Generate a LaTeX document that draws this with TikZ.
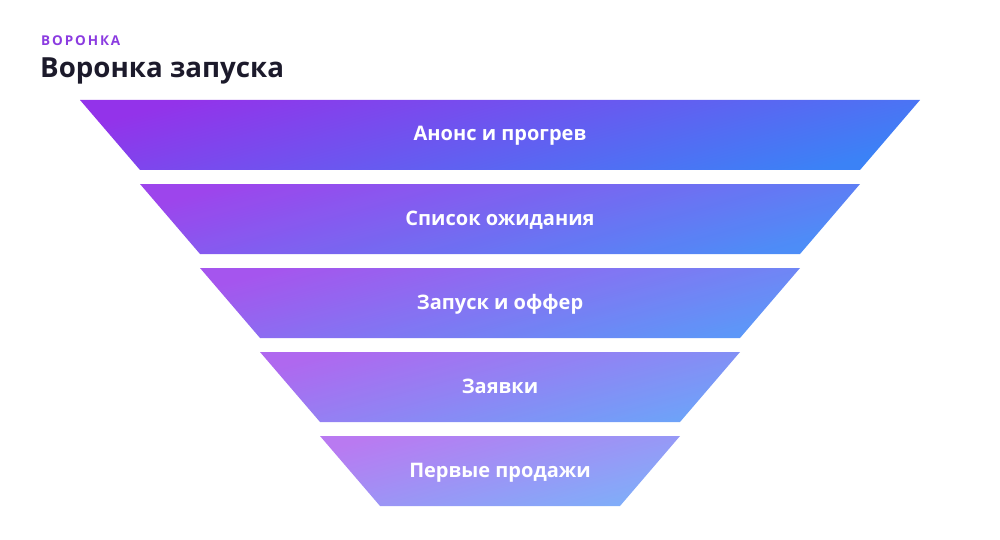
\documentclass[tikz,border=0pt]{standalone}
\usepackage{fontspec}
\setmainfont{Open Sans}
\newfontfamily\kickerfont{Open Sans}[LetterSpace=14]
\definecolor{cpurple}{HTML}{9333EA}
\definecolor{cblue}{HTML}{3B82F6}
\definecolor{ctitle}{HTML}{1C1A2B}
\definecolor{ckicker}{HTML}{8B3BE0}
\begin{document}
\begin{tikzpicture}[x=1pt,y=-1pt,
  layerfill/.style={top color=cpurple,bottom color=cblue,shading angle=15,draw=none},
  lbl/.style={text=white,font=\bfseries\fontsize{20}{24}\selectfont,inner sep=0pt,anchor=base}]
\useasboundingbox (0,0) rectangle (1000,540);
\node[anchor=base west,inner sep=0pt,text=ckicker,font=\kickerfont\bfseries\fontsize{13.5}{15}\selectfont] (kicker) at (41,46) {ВОРОНКА};
\node[anchor=base west,inner sep=0pt,text=ctitle,font=\bfseries\fontsize{27.7}{32}\selectfont] (title) at (40,78) {Воронка запуска};
\shade[layerfill,fill opacity=1] (80,100) -- (920,100) -- (860,170) -- (140,170) -- cycle;
\shade[layerfill,fill opacity=0.91] (140,184) -- (860,184) -- (800,254) -- (200,254) -- cycle;
\shade[layerfill,fill opacity=0.83] (200,268) -- (800,268) -- (740,338) -- (260,338) -- cycle;
\shade[layerfill,fill opacity=0.74] (260,352) -- (740,352) -- (680,422) -- (320,422) -- cycle;
\shade[layerfill,fill opacity=0.65] (320,436) -- (680,436) -- (620,506) -- (380,506) -- cycle;
\node[lbl] (l1) at (500,141) {Анонс и прогрев};
\node[lbl] (l2) at (500,225) {Список ожидания};
\node[lbl] (l3) at (500,309) {Запуск и оффер};
\node[lbl] (l4) at (500,393) {Заявки};
\node[lbl] (l5) at (500,477) {Первые продажи};
\end{tikzpicture}
\end{document}
